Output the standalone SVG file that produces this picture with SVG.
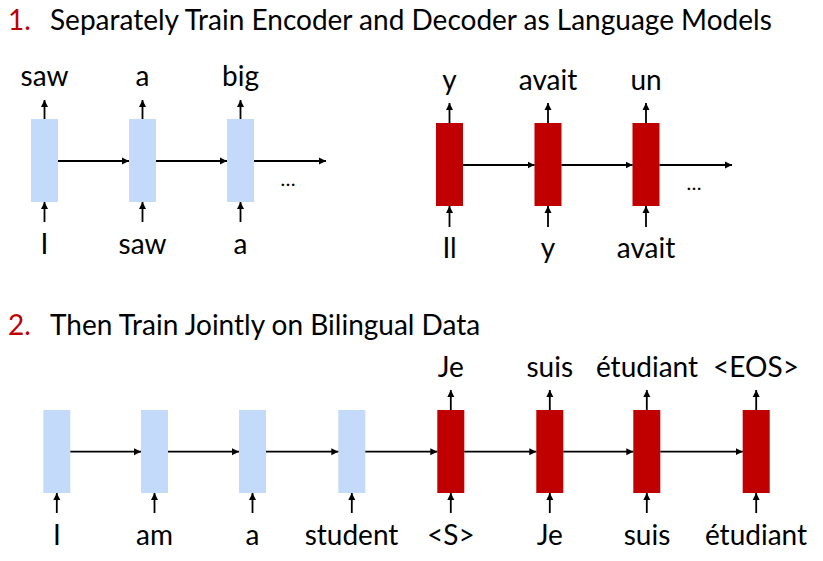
<svg xmlns="http://www.w3.org/2000/svg" width="823" height="561" viewBox="0 0 823 561">
<defs>
<marker id="ah" markerUnits="userSpaceOnUse" markerWidth="10" markerHeight="10" refX="7" refY="4" orient="auto">
<path d="M0,0.5 L7,4 L0,7.5 Z" fill="#000"/>
</marker>
<style>
text{font-family:Lato,"Liberation Sans",sans-serif;font-size:28px;fill:#000}
.t{text-anchor:middle}
.num{fill:#C00000}
.enc{fill:#C3DAFA}
.dec{fill:#C00000}
.c line{stroke:#000;stroke-width:1.8;marker-end:url(#ah)}
</style>
</defs>
<rect width="823" height="561" fill="#fff"/>
<g id="title1"><text x="8" y="30" class="num">1.</text><text x="50" y="30">Separately Train Encoder and Decoder as Language Models</text></g>
<g id="title2"><text x="8" y="335" class="num">2.</text><text x="50" y="335">Then Train Jointly on Bilingual Data</text></g>

<g id="enc1-1"><rect class="enc" x="31" y="119" width="27" height="83"/><text class="t" x="44.5" y="86">saw</text><text class="t" x="44.5" y="254">I</text></g>
<g id="enc1-2"><rect class="enc" x="129" y="119" width="27" height="83"/><text class="t" x="142.5" y="86">a</text><text class="t" x="142.5" y="254">saw</text></g>
<g id="enc1-3"><rect class="enc" x="227" y="119" width="27" height="83"/><text class="t" x="240.5" y="86">big</text><text class="t" x="240.5" y="254">a</text></g>
<text x="288" y="186" class="t" style="font-size:20px">…</text>

<g id="dec1-1"><rect class="dec" x="436" y="123" width="27" height="83"/><text class="t" x="449.5" y="90">y</text><text class="t" x="449.5" y="258">Il</text></g>
<g id="dec1-2"><rect class="dec" x="534.5" y="123" width="27" height="83"/><text class="t" x="548" y="90">avait</text><text class="t" x="548" y="258">y</text></g>
<g id="dec1-3"><rect class="dec" x="632.5" y="123" width="27" height="83"/><text class="t" x="646" y="90">un</text><text class="t" x="646" y="258">avait</text></g>
<text x="694" y="190" class="t" style="font-size:20px">…</text>

<g id="enc2-1"><rect class="enc" x="43.3" y="410" width="27" height="83"/><text class="t" x="57" y="545">I</text></g>
<g id="enc2-2"><rect class="enc" x="141" y="410" width="27" height="83"/><text class="t" x="154.5" y="545">am</text></g>
<g id="enc2-3"><rect class="enc" x="239" y="410" width="27" height="83"/><text class="t" x="252.5" y="545">a</text></g>
<g id="enc2-4"><rect class="enc" x="338.3" y="410" width="27" height="83"/><text class="t" x="351.5" y="545">student</text></g>
<g id="dec2-1"><rect class="dec" x="437.3" y="410" width="27" height="83"/><text class="t" x="450.8" y="377">Je</text><text class="t" x="450.8" y="545">&lt;S&gt;</text></g>
<g id="dec2-2"><rect class="dec" x="536.3" y="410" width="27" height="83"/><text class="t" x="549.8" y="377">suis</text><text class="t" x="549.8" y="545">Je</text></g>
<g id="dec2-3"><rect class="dec" x="633.3" y="410" width="27" height="83"/><text class="t" x="647" y="377">étudiant</text><text class="t" x="647" y="545">suis</text></g>
<g id="dec2-4"><rect class="dec" x="742.7" y="410" width="27" height="83"/><text class="t" x="756" y="377">&lt;EOS&gt;</text><text class="t" x="756" y="545">étudiant</text></g>

<g id="connectors" class="c">
<line x1="58" y1="161" x2="129" y2="161"/>
<line x1="156" y1="161" x2="227" y2="161"/>
<line x1="254" y1="161" x2="326" y2="161"/>
<line x1="44.5" y1="119" x2="44.5" y2="100"/>
<line x1="142.5" y1="119" x2="142.5" y2="100"/>
<line x1="240.5" y1="119" x2="240.5" y2="100"/>
<line x1="44.5" y1="222" x2="44.5" y2="202"/>
<line x1="142.5" y1="222" x2="142.5" y2="202"/>
<line x1="240.5" y1="222" x2="240.5" y2="202"/>

<line x1="463" y1="165" x2="534.5" y2="165"/>
<line x1="561.5" y1="165" x2="632.5" y2="165"/>
<line x1="659.5" y1="165" x2="732" y2="165"/>
<line x1="449.5" y1="123" x2="449.5" y2="103"/>
<line x1="548" y1="123" x2="548" y2="103"/>
<line x1="646" y1="123" x2="646" y2="103"/>
<line x1="449.5" y1="227" x2="449.5" y2="206"/>
<line x1="548" y1="227" x2="548" y2="206"/>
<line x1="646" y1="227" x2="646" y2="206"/>

<line x1="70.3" y1="451.7" x2="141" y2="451.7"/>
<line x1="168" y1="451.7" x2="239" y2="451.7"/>
<line x1="266" y1="451.7" x2="338.3" y2="451.7"/>
<line x1="365.3" y1="451.7" x2="437.3" y2="451.7"/>
<line x1="464.3" y1="451.7" x2="536.3" y2="451.7"/>
<line x1="563.3" y1="451.7" x2="633.3" y2="451.7"/>
<line x1="660.3" y1="451.7" x2="742.7" y2="451.7"/>
<line x1="56.8" y1="513" x2="56.8" y2="493"/>
<line x1="154.5" y1="513" x2="154.5" y2="493"/>
<line x1="252.5" y1="513" x2="252.5" y2="493"/>
<line x1="351.8" y1="513" x2="351.8" y2="493"/>
<line x1="450.8" y1="513" x2="450.8" y2="493"/>
<line x1="549.8" y1="513" x2="549.8" y2="493"/>
<line x1="646.8" y1="513" x2="646.8" y2="493"/>
<line x1="756.2" y1="513" x2="756.2" y2="493"/>
<line x1="450.8" y1="410" x2="450.8" y2="390"/>
<line x1="549.8" y1="410" x2="549.8" y2="390"/>
<line x1="646.8" y1="410" x2="646.8" y2="390"/>
<line x1="756.2" y1="410" x2="756.2" y2="390"/>
</g>
</svg>
